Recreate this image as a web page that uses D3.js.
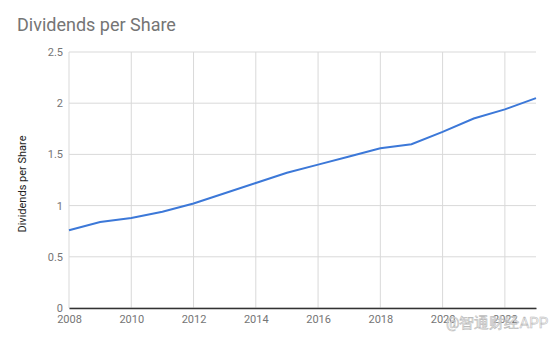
<!doctype html>
<html>
<head>
    <meta charset="UTF-8">
    <title>Dividends per Share</title>
    <script src="https://d3js.org/d3.v7.min.js"></script>
    <style>
        body { margin: 0; background: #fff; }
        text { font-family: Roboto, "Noto Sans", sans-serif; }
    </style>
</head>
<body>
    <svg width="554" height="342"></svg>
    <script>
        var years = [2008, 2009, 2010, 2011, 2012, 2013, 2014, 2015, 2016, 2017, 2018, 2019, 2020, 2021, 2022, 2023];
        var dividends = [0.76, 0.84, 0.88, 0.94, 1.02, 1.12, 1.22, 1.32, 1.40, 1.48, 1.56, 1.60, 1.72, 1.85, 1.94, 2.05];
        var xTicks = [2008, 2010, 2012, 2014, 2016, 2018, 2020, 2022];
        var yTicks = [0, 0.5, 1, 1.5, 2, 2.5];

        var svg = d3.select("svg");
        var padL = 69, padR = 536, padT = 52, padB = 308;

        var x = d3.scaleLinear().domain([2008, 2023]).range([padL, padR]);
        var y = d3.scaleLinear().domain([0, 2.5]).range([padB, padT]);

        // title
        svg.append("text")
            .attr("x", 17)
            .attr("y", 31)
            .attr("font-size", 18)
            .attr("fill", "#757575")
            .text("Dividends per Share");

        // grid
        svg.append("g")
            .selectAll("line")
            .data(yTicks)
            .enter().append("line")
            .attr("x1", padL).attr("x2", padR)
            .attr("y1", function (d) { return y(d); })
            .attr("y2", function (d) { return y(d); })
            .attr("stroke", "#d9d9d9")
            .attr("stroke-width", 1);

        svg.append("g")
            .selectAll("line")
            .data(xTicks)
            .enter().append("line")
            .attr("y1", padT).attr("y2", padB)
            .attr("x1", function (d) { return x(d); })
            .attr("x2", function (d) { return x(d); })
            .attr("stroke", "#d9d9d9")
            .attr("stroke-width", 1);

        // axes labels
        var yAxis = d3.axisLeft(y).tickValues(yTicks).tickSize(0).tickPadding(6)
            .tickFormat(function (d) { return d; });
        var gy = svg.append("g").attr("transform", "translate(" + padL + ",0)").call(yAxis);
        gy.select(".domain").remove();
        gy.selectAll("text").attr("font-size", 11).attr("fill", "#757575")
            .attr("font-family", "Roboto, sans-serif");

        var xAxis = d3.axisBottom(x).tickValues(xTicks).tickSize(0).tickPadding(7)
            .tickFormat(d3.format("d"));
        var gx = svg.append("g").attr("transform", "translate(0," + padB + ")").call(xAxis);
        gx.select(".domain").attr("stroke", "#333").attr("stroke-width", 1.5);
        gx.selectAll("text").attr("font-size", 11).attr("fill", "#757575")
            .attr("font-family", "Roboto, sans-serif");

        // y title
        svg.append("text")
            .attr("transform", "translate(26,184) rotate(-90)")
            .attr("text-anchor", "middle")
            .attr("font-size", 11)
            .attr("fill", "#222")
            .text("Dividends per Share");

        // line
        var line = d3.line()
            .x(function (d, i) { return x(years[i]); })
            .y(function (d) { return y(d); });

        svg.append("path")
            .datum(dividends)
            .attr("d", line)
            .attr("fill", "none")
            .attr("stroke", "#3c78d8")
            .attr("stroke-width", 2);

        // watermark
        svg.append("text")
            .attr("x", 446)
            .attr("y", 328)
            .attr("font-size", 15)
            .attr("font-family", "'Noto Sans CJK SC', sans-serif")
            .attr("fill", "#fff")
            .attr("fill-opacity", 0.6)
            .attr("stroke", "#bbb")
            .attr("stroke-width", 0.6)
            .text("@智通财经APP");
    </script>
</body>
</html>
